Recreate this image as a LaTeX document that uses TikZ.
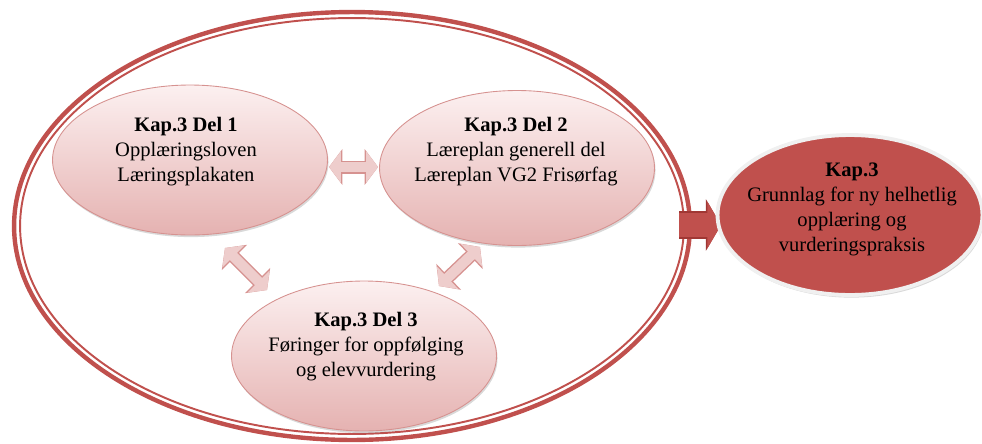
\documentclass[tikz,border=0pt]{standalone}
\usepackage{fontspec}
\setmainfont{Liberation Serif}
\usetikzlibrary{arrows.meta,shapes.geometric,shadows}
\usetikzlibrary{positioning}

\definecolor{ringred}{RGB}{192,80,77}
\definecolor{pinktop}{RGB}{252,240,240}
\definecolor{pinkbot}{RGB}{229,178,177}
\definecolor{pinkline}{RGB}{214,146,144}
\definecolor{arrowpink}{RGB}{238,205,204}
\definecolor{redline}{RGB}{160,55,52}

\begin{document}
\begin{tikzpicture}
		[x=0.02cm,y=-0.02cm,
		every node/.style={font=\fontsize{11.7}{14.2}\selectfont,align=center},
		oval/.style={ellipse,inner sep=0pt,draw=pinkline,line width=0.5pt,
			top color=pinktop,bottom color=pinkbot,
			drop shadow={shadow xshift=0.6pt,shadow yshift=-1.2pt,opacity=0.3}},
		goal/.style={ellipse,inner sep=0pt,fill=ringred,draw=black!6,line width=2.2pt,
			drop shadow={shadow xshift=0.8pt,shadow yshift=-1.5pt,opacity=0.3}},
		ringout/.style={ellipse,inner sep=0pt,draw=ringred,line width=2.5pt},
		ringin/.style={ellipse,inner sep=0pt,draw=ringred,line width=1.1pt},
		linkedge/.style={pinkline,line width=7.4pt,
			{Triangle[length=7.6pt,width=20pt]}-{Triangle[length=7.6pt,width=20pt]}},
		linkbody/.style={arrowpink,line width=5.8pt,
			{Triangle[length=6.8pt,width=17.5pt]}-{Triangle[length=6.8pt,width=17.5pt]}},
		mainedge/.style={redline,line width=15.4pt,-{Triangle[length=8.6pt,width=29pt]}},
		mainbody/.style={ringred,line width=13.6pt,-{Triangle[length=7.8pt,width=26.5pt]}}]
		\useasboundingbox (0,0) rectangle (982,443);
		
		% outer ring
		\node[ringout,minimum width=13.52cm,minimum height=8.56cm] (ring) at (352,226) {};
		\node[ringin,minimum width=13.28cm,minimum height=8.32cm] (ring2) at (352,226) {};
		
		% the three parts
		\node[oval,minimum width=5.5cm,minimum height=3cm] (d1) at (190,160) {};
		\node[oval,minimum width=5.5cm,minimum height=3.1cm] (d2) at (517,168) {};
		\node[oval,minimum width=5.3cm,minimum height=3cm] (d3) at (364,356) {};
		\node (t1) at (186,152) {\textbf{Kap.3 Del 1}\\Opplæringsloven\\Læringsplakaten};
		\node (t2) at (516,152) {\textbf{Kap.3 Del 2}\\Læreplan generell del\\Læreplan VG2 Frisørfag};
		\node (t3) at (366,347) {\textbf{Kap.3 Del 3}\\Føringer for oppfølging\\og elevvurdering};
		
		% arrow ends
		\coordinate (a1) at (329,167);
		\coordinate (a2) at (378,167);
		\coordinate (b1) at (225,248);
		\coordinate (b2) at (267,290);
		\coordinate (c1) at (480,247);
		\coordinate (c2) at (439,286);
		\coordinate (m1) at (679,225);
		\coordinate (m2) at (721,225);
		
		\foreach \from/\to in 
		{a1/a2, b1/b2, c1/c2}
		{\draw[linkedge] (\from) -- (\to);
		\draw[linkbody] (\from) -- (\to);}
		\draw[mainedge] (m1) -- (m2);
		\draw[mainbody] (m1) -- (m2);
		
		% result
		\node[goal,minimum width=5.3cm,minimum height=3.2cm] (r) at (850,215) {};
		\node (tr) at (852,209) {\textbf{Kap.3}\\Grunnlag for ny helhetlig\\opplæring og\\vurderingspraksis};
		\end{tikzpicture}
\end{document}
